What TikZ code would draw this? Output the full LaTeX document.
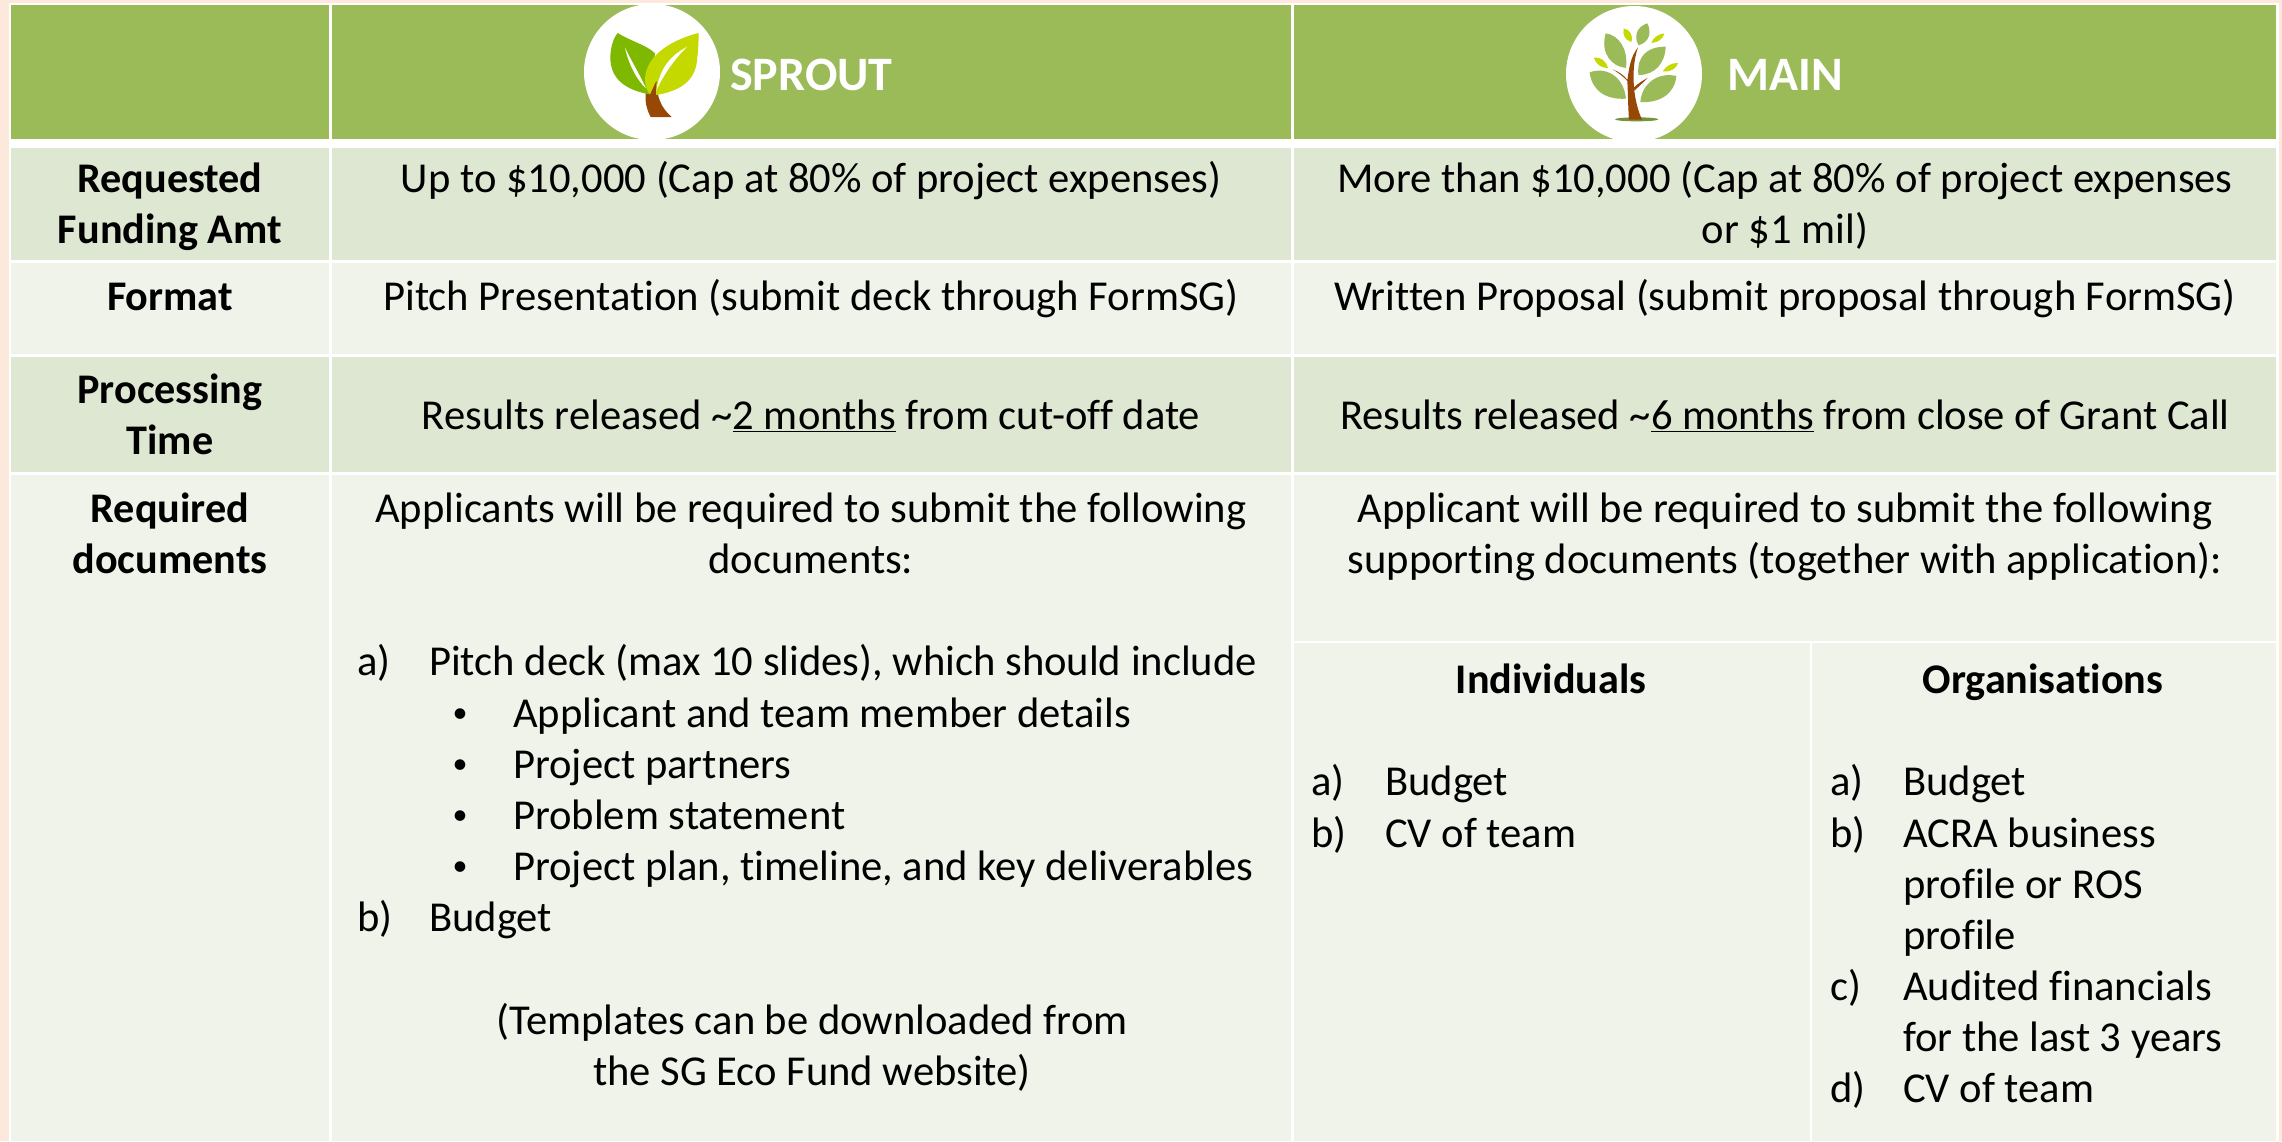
\documentclass[tikz,border=0pt]{standalone}
\usepackage{fontspec}
\setmainfont[Ligatures=NoCommon]{Carlito}
\definecolor{headgreen}{HTML}{9BBB59}
\definecolor{bandA}{HTML}{DEE7D1}
\definecolor{bandB}{HTML}{EFF3EA}
\definecolor{peach}{HTML}{FDE9DC}
\definecolor{leafdark}{HTML}{7FB800}
\definecolor{leaflight}{HTML}{C4D900}
\definecolor{trunk}{HTML}{974706}
\definecolor{groundgreen}{HTML}{76923C}
\tikzset{
  cellA/.style={fill=bandA,draw=none},
  cellB/.style={fill=bandB,draw=none},
  cellH/.style={fill=headgreen,draw=none},
  sepline/.style={draw=white,line width=2.5pt},
  ctext/.style={anchor=base,inner sep=0pt,font=\fontsize{42.6}{51}\selectfont,text=black},
  btext/.style={ctext,font=\fontsize{42.2}{51}\selectfont\bfseries},
  ltext/.style={ctext,anchor=base west},
  bullettext/.style={ctext,anchor=base,font=\fontsize{30}{51}\selectfont},
  htext/.style={anchor=base west,inner sep=0pt,text=white,font=\fontsize{48}{58}\selectfont\bfseries},
  zoomA/.style={shift={(560,0)},x=0.33333pt,y=-0.33333pt},
  zoomB/.style={shift={(1540,0)},x=0.33333pt,y=-0.33333pt},
}
\newcommand{\ulsix}{\underline{6 months}}
\begin{document}
\begin{tikzpicture}[x=1pt,y=-1pt]
\useasboundingbox (0,0) rectangle (2282,1141);
% background
\fill[peach] (0,0) rectangle (2282,1141);
\fill[white] (9,3) rectangle (2279,1141);
% cells
\fill[cellH] (11,5) rectangle (2276,139);
\fill[cellA] (11,148) rectangle (2276,260);
\fill[cellB] (11,263) rectangle (2276,354);
\fill[cellA] (11,357) rectangle (2276,472);
\fill[cellB] (11,475) rectangle (2276,1141);
% separators
\coordinate (c1t) at (330.5,5);
\coordinate (c1b) at (330.5,1141);
\coordinate (c2t) at (1292.5,5);
\coordinate (c2b) at (1292.5,1141);
\coordinate (c3t) at (1811,642);
\coordinate (c3b) at (1811,1141);
\coordinate (h1l) at (1292.5,642);
\coordinate (h1r) at (2276,642);
\draw[sepline] (c1t) -- (c1b);
\draw[sepline] (c2t) -- (c2b);
\draw[sepline] (c3t) -- (c3b);
\draw[sepline] (h1l) -- (h1r);
% sprout logo
\fill[white] (652,72) circle (68);
\begin{scope}[zoomA]
\fill[trunk] (276,240) -- (292,240) .. controls (287,290) and (305,325) .. (335,351) -- (272,351) .. controls (258,325) and (255,300) .. (257,280) -- cycle;
\fill[leafdark] (173,99) .. controls (215,125) and (260,135) .. (285,160) -- (268,283) .. controls (200,270) and (150,240) .. (151,170) .. controls (152,140) and (160,115) .. (173,99) -- cycle;
\fill[white] (195,143) .. controls (205,190) and (230,240) .. (258,265) .. controls (240,225) and (215,185) .. (195,143) -- cycle;
\fill[leaflight] (416,99) .. controls (350,115) and (255,160) .. (255,240) .. controls (256,260) and (262,275) .. (270,283) -- (290,240) -- (288,285) .. controls (350,275) and (400,250) .. (410,190) .. controls (415,150) and (416,120) .. (416,99) -- cycle;
\fill[white] (382,140) .. controls (335,165) and (300,200) .. (289,272) .. controls (310,225) and (345,175) .. (382,140) -- cycle;
\end{scope}
% main logo
\fill[white] (1634,74) circle (68);
\begin{scope}[zoomB]
\fill[groundgreen] (290,358) ellipse (65 and 6);
\fill[trunk] (262,240) .. controls (268,200) and (272,170) .. (294,142) .. controls (282,175) and (278,220) .. (282,262) .. controls (285,300) and (295,335) .. (306,359) -- (267,359) .. controls (264,320) and (264,280) .. (262,243) .. controls (250,230) and (235,218) .. (218,208) .. controls (235,215) and (252,225) .. (262,240) -- cycle;
\fill[trunk] (282,262) .. controls (295,250) and (310,240) .. (323,234) .. controls (312,245) and (298,258) .. (283,272) -- cycle;
\fill[headgreen] (197,100) .. controls (235,105) and (265,145) .. (258,204) .. controls (215,200) and (180,160) .. (197,100) -- cycle;
\fill[headgreen] (322,70) .. controls (335,95) and (330,125) .. (296,136) .. controls (280,110) and (290,80) .. (322,70) -- cycle;
\fill[headgreen] (377,140) .. controls (375,190) and (345,225) .. (295,225) .. controls (290,170) and (320,140) .. (377,140) -- cycle;
\fill[headgreen] (149,217) .. controls (195,200) and (250,225) .. (258,296) .. controls (195,300) and (155,270) .. (149,217) -- cycle;
\fill[headgreen] (409,228) .. controls (405,280) and (360,310) .. (301,306) .. controls (305,250) and (355,215) .. (409,228) -- cycle;
\fill[leaflight] (251,85) .. controls (270,90) and (280,105) .. (274,126) .. controls (255,120) and (247,105) .. (251,85) -- cycle;
\fill[leaflight] (373,100) .. controls (370,115) and (355,128) .. (334,129) .. controls (340,112) and (355,102) .. (373,100) -- cycle;
\fill[leaflight] (162,173) .. controls (180,170) and (198,182) .. (204,204) .. controls (185,204) and (168,195) .. (162,173) -- cycle;
\fill[leaflight] (414,189) .. controls (410,205) and (392,217) .. (368,214) .. controls (378,198) and (395,188) .. (414,189) -- cycle;
\end{scope}
% header text
\node[htext] (sprout) at (730,90) {SPROUT};
\node[htext] (mainhd) at (1727,90) {MAIN};
% column 1
\node[btext] (r1a) at (170,192) {Requested};
\node[btext] (r1b) at (170,243) {Funding Amt};
\node[btext] (r2a) at (170,310) {Format};
\node[btext] (r3a) at (170,403) {Processing};
\node[btext] (r3b) at (170,454) {Time};
\node[btext] (r4a) at (170,522) {Required};
\node[btext] (r4b) at (170,573) {documents};
% column 2
\node[ctext] (s1) at (811,192) {Up to \$10,000 (Cap at 80\% of project expenses)};
\node[ctext] (s2) at (811,310) {Pitch Presentation (submit deck through FormSG)};
\node[ctext] (s3) at (811,429) {Results released \textasciitilde\underline{2 months} from cut-off date};
\node[ctext] (s4a) at (811,522) {Applicants will be required to submit the following};
\node[ctext] (s4b) at (811,573) {documents:};
\node[ltext] (sa) at (357,675) {a)};
\node[ltext] (sat) at (429,675) {Pitch deck (max 10 slides), which should include};
\node[bullettext] (bu1) at (460,722) {•};
\node[ltext] (bt1) at (513,727) {Applicant and team member details};
\node[bullettext] (bu2) at (460,773) {•};
\node[ltext] (bt2) at (513,778) {Project partners};
\node[bullettext] (bu3) at (460,824) {•};
\node[ltext] (bt3) at (513,829) {Problem statement};
\node[bullettext] (bu4) at (460,875) {•};
\node[ltext] (bt4) at (513,880) {Project plan, timeline, and key deliverables};
\node[ltext] (sb) at (357,931) {b)};
\node[ltext] (sbt) at (429,931) {Budget};
\node[ctext] (t1) at (812,1034) {(Templates can be downloaded from};
\node[ctext] (t2) at (812,1085) {the SG Eco Fund website)};
% column 3
\node[ctext] (m1a) at (1785,192) {More than \$10,000 (Cap at 80\% of project expenses};
\node[ctext] (m1b) at (1785,243) {or \$1 mil)};
\node[ctext] (m2) at (1785,310) {Written Proposal (submit proposal through FormSG)};
\node[ctext] (m3) at (1785,429) {Results released \textasciitilde\ulsix{} from close of Grant Call};
\node[ctext] (m4a) at (1785,522) {Applicant will be required to submit the following};
\node[ctext] (m4b) at (1785,573) {supporting documents (together with application):};
% individuals
\node[btext] (ih) at (1551,693) {Individuals};
\node[ltext] (ia) at (1311,795) {a)};
\node[ltext] (iat) at (1385,795) {Budget};
\node[ltext] (ib) at (1311,847) {b)};
\node[ltext] (ibt) at (1385,847) {CV of team};
% organisations
\node[btext] (oh) at (2043,693) {Organisations};
\node[ltext] (oa) at (1830,795) {a)};
\node[ltext] (oat) at (1903,795) {Budget};
\node[ltext] (ob) at (1830,847) {b)};
\node[ltext] (obt) at (1903,847) {ACRA business};
\node[ltext] (obu) at (1903,898) {profile or ROS};
\node[ltext] (obv) at (1903,949) {profile};
\node[ltext] (oc) at (1830,1000) {c)};
\node[ltext] (oct) at (1903,1000) {Audited financials};
\node[ltext] (ocu) at (1903,1051) {for the last 3 years};
\node[ltext] (od) at (1830,1102) {d)};
\node[ltext] (odt) at (1903,1102) {CV of team};
\end{tikzpicture}
\end{document}
